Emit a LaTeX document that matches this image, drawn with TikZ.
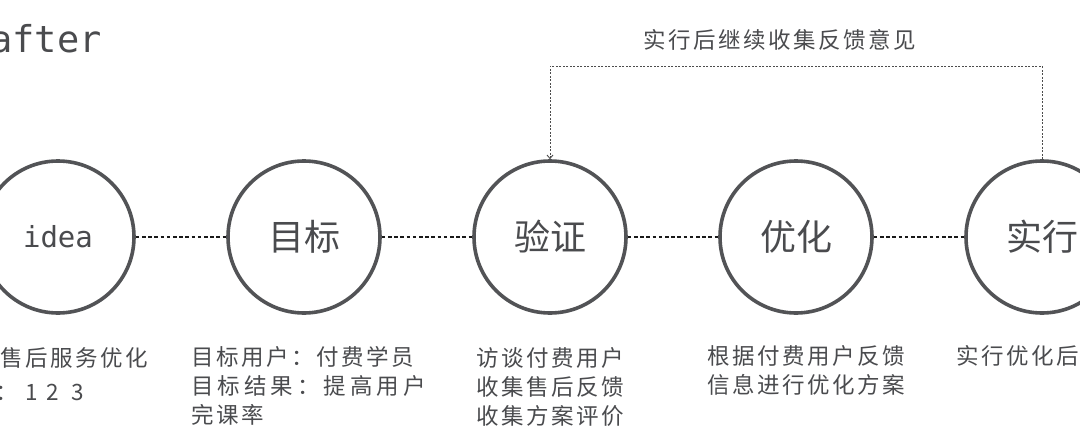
\documentclass[tikz,border=0pt]{standalone}
\usepackage{fontspec}
\newfontfamily\cjk{Noto Sans CJK SC}
\newfontfamily\mono{DejaVu Sans Mono}
\usetikzlibrary{arrows.meta}
\definecolor{cgray}{RGB}{82,83,86}
\definecolor{tgray}{RGB}{74,75,78}
\newlength\lsk
\setlength\lsk{2.5pt}
\def\lsloop#1#2{#1\ifx#2\relax\else\kern\lsk\expandafter\lsloop\expandafter#2\fi}
\newcommand\ls[1]{\lsloop#1\relax}
\tikzset{
  circ/.style={circle, draw=cgray, line width=3.6pt, minimum size=152pt, inner sep=0pt, text=tgray},
  zhbig/.style={font=\cjk\fontsize{36}{36}\selectfont},
  monobig/.style={font=\mono\fontsize{29}{29}\selectfont},
  conn/.style={draw=black!90, line width=1.9pt, dash pattern=on 3.6pt off 2.6pt},
  fb/.style={draw=black!70, line width=0.9pt, dash pattern=on 2.2pt off 1.3pt},
  lbl/.style={anchor=base west, inner sep=0pt, text=tgray, font=\cjk\fontsize{22.5}{27}\selectfont},
}
\begin{document}
\begin{tikzpicture}[x=1pt,y=-1pt]
\useasboundingbox (0,0) rectangle (1080,444);
\fill[white] (0,0) rectangle (1080,444);
\clip (0,0) rectangle (1080,444);

% title
\node[anchor=base west, inner sep=0pt, text=tgray, font=\mono\fontsize{37}{37}\selectfont] (title) at (-10,53) {after};

% circles
\node[circ, monobig] (idea) at (58,237) {idea};
\node[circ, zhbig] (goal) at (304,237) {目标};
\node[circ, zhbig] (verify) at (550,237) {验证};
\node[circ, zhbig] (opt) at (796,237) {优化};
\node[circ, zhbig] (impl) at (1042,237) {实行};

% connectors
\draw[conn] (idea) -- (goal);
\draw[conn] (goal) -- (verify);
\draw[conn] (verify) -- (opt);
\draw[conn] (opt) -- (impl);

% feedback loop
\coordinate (fbR) at (1042,66);
\coordinate (fbL) at (550,66);
\draw[fb, -{Straight Barb[length=3.5pt,width=6pt]}] (impl.north) -- (fbR) -- (fbL) -- (verify.north);
\node[lbl, anchor=base] (fbtext) at (780,48.5) {\ls{实行后继续收集反馈意见}};

% texts under circles
\node[lbl] (ideaA) at (0,366) {\ls{售后服务优化}};
\node[lbl] (ideaB) at (-5,400) {：\kern8pt 1\kern8pt 2\kern12.5pt 3};

\node[lbl] (goalA) at (191,365.5) {\ls{目标用户：付费学员}};
\node[lbl] (goalB) at (191,394.5) {\setlength\lsk{4pt}\ls{目标结果：提高用户}};
\node[lbl] (goalC) at (191,423.5) {\ls{完课率}};

\node[lbl] (verA) at (476,366.5) {\ls{访谈付费用户}};
\node[lbl] (verB) at (476,395.5) {\ls{收集售后反馈}};
\node[lbl] (verC) at (476,424.5) {\ls{收集方案评价}};

\node[lbl] (optA) at (707,364.5) {\ls{根据付费用户反馈}};
\node[lbl] (optB) at (707,393) {\ls{信息进行优化方案}};

\node[lbl] (implA) at (956,364.5) {\ls{实行优化后}};
\end{tikzpicture}
\end{document}
